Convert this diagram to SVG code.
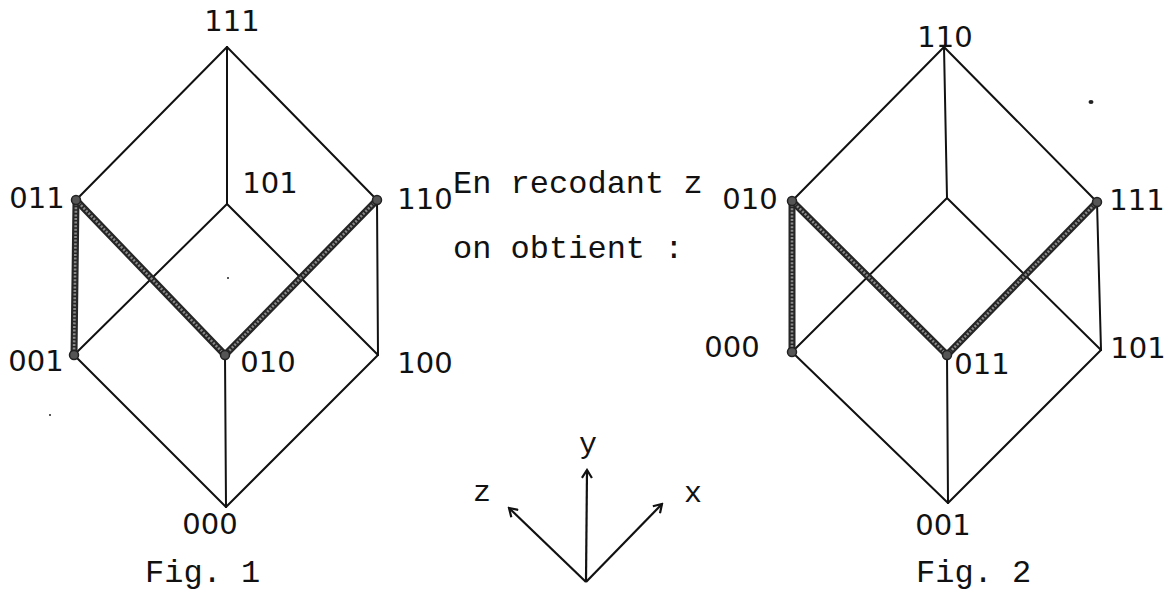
<svg xmlns="http://www.w3.org/2000/svg" width="1174" height="593" viewBox="0 0 1174 593">
<style>
.bg{fill:#ffffff}
.thin{stroke:#111;stroke-width:2;fill:none;stroke-linecap:round}
.thickO{stroke:#262626;stroke-width:7;fill:none;stroke-linecap:round}
.thickI{stroke:#8a8a8a;stroke-width:2.6;fill:none;stroke-dasharray:2 1.6}
.dot{fill:#555;stroke:#222;stroke-width:1.5}
.lbl{font-family:"DejaVu Sans",sans-serif;font-size:29px;fill:#111;text-anchor:middle}
.mono{font-family:"Liberation Mono","Courier New",monospace;font-size:32px;fill:#111}
.ax{stroke:#111;stroke-width:2.2;fill:none}
.speck{fill:#222}
</style>
<defs>
<marker id="arr" markerWidth="12" markerHeight="12" refX="10" refY="6" orient="auto" markerUnits="userSpaceOnUse">
<path d="M2,1 L10,6 L2,11" fill="none" stroke="#111" stroke-width="2.2"/>
</marker>
</defs>
<rect class="bg" x="0" y="0" width="1174" height="593"/>

<g id="connectors">
<!-- Fig 1 thin -->
<line class="thin" x1="227" y1="47" x2="76" y2="200"/>
<line class="thin" x1="227" y1="47" x2="377" y2="200"/>
<line class="thin" x1="227" y1="47" x2="227" y2="204"/>
<line class="thin" x1="227" y1="204" x2="74" y2="355"/>
<line class="thin" x1="227" y1="204" x2="378" y2="355"/>
<line class="thin" x1="377" y1="200" x2="378" y2="355"/>
<line class="thin" x1="74" y1="355" x2="226" y2="507"/>
<line class="thin" x1="378" y1="355" x2="226" y2="507"/>
<line class="thin" x1="225" y1="355" x2="226" y2="507"/>
<!-- Fig 1 thick -->
<g>
<line class="thickO" x1="76" y1="200" x2="74" y2="355"/>
<line class="thickO" x1="76" y1="200" x2="225" y2="355"/>
<line class="thickO" x1="377" y1="200" x2="225" y2="355"/>
<line class="thickI" x1="76" y1="200" x2="74" y2="355"/>
<line class="thickI" x1="76" y1="200" x2="225" y2="355"/>
<line class="thickI" x1="377" y1="200" x2="225" y2="355"/>
</g>
<!-- Fig 2 thin -->
<line class="thin" x1="944" y1="47" x2="792" y2="201"/>
<line class="thin" x1="944" y1="47" x2="1097" y2="202"/>
<line class="thin" x1="944" y1="47" x2="947" y2="198"/>
<line class="thin" x1="947" y1="198" x2="792" y2="352"/>
<line class="thin" x1="947" y1="198" x2="1101" y2="350"/>
<line class="thin" x1="1097" y1="202" x2="1101" y2="350"/>
<line class="thin" x1="792" y1="352" x2="948" y2="503"/>
<line class="thin" x1="1101" y1="350" x2="948" y2="503"/>
<line class="thin" x1="947" y1="355" x2="948" y2="503"/>
<!-- Fig 2 thick -->
<g>
<line class="thickO" x1="792" y1="201" x2="792" y2="352"/>
<line class="thickO" x1="792" y1="201" x2="947" y2="355"/>
<line class="thickO" x1="1097" y1="202" x2="947" y2="355"/>
<line class="thickI" x1="792" y1="201" x2="792" y2="352"/>
<line class="thickI" x1="792" y1="201" x2="947" y2="355"/>
<line class="thickI" x1="1097" y1="202" x2="947" y2="355"/>
</g>
</g>

<g id="fig1-111"><text class="lbl" x="232" y="31">111</text></g>
<g id="fig1-101"><text class="lbl" x="270" y="193">101</text></g>
<g id="fig1-011"><circle class="dot" cx="76" cy="200" r="4.5"/><text class="lbl" x="37" y="208">011</text></g>
<g id="fig1-110"><circle class="dot" cx="377" cy="200" r="4.5"/><text class="lbl" x="425" y="209">110</text></g>
<g id="fig1-001"><circle class="dot" cx="74" cy="355" r="4.5"/><text class="lbl" x="36" y="371">001</text></g>
<g id="fig1-010"><circle class="dot" cx="225" cy="355" r="4.5"/><text class="lbl" x="268" y="372">010</text></g>
<g id="fig1-100"><text class="lbl" x="425" y="373">100</text></g>
<g id="fig1-000"><text class="lbl" x="210" y="534">000</text></g>
<g id="fig1-caption"><text class="mono" x="145" y="582">Fig. 1</text></g>

<g id="fig2-110"><text class="lbl" x="945" y="47">110</text></g>
<g id="fig2-010"><circle class="dot" cx="792" cy="201" r="4.5"/><text class="lbl" x="750" y="209">010</text></g>
<g id="fig2-111"><circle class="dot" cx="1097" cy="202" r="4.5"/><text class="lbl" x="1137" y="210">111</text></g>
<g id="fig2-000"><circle class="dot" cx="792" cy="352" r="4.5"/><text class="lbl" x="732" y="357">000</text></g>
<g id="fig2-011"><circle class="dot" cx="947" cy="355" r="4.5"/><text class="lbl" x="982" y="374">011</text></g>
<g id="fig2-101"><text class="lbl" x="1138" y="358">101</text></g>
<g id="fig2-001"><text class="lbl" x="943" y="535">001</text></g>
<g id="fig2-caption"><text class="mono" x="916" y="582">Fig. 2</text></g>

<g id="note">
<text class="mono" x="453" y="193">En recodant z</text>
<text class="mono" x="453" y="258">on obtient :</text>
</g>

<g id="axes">
<line class="ax" x1="586" y1="582" x2="587" y2="470" marker-end="url(#arr)"/>
<line class="ax" x1="586" y1="582" x2="509" y2="508" marker-end="url(#arr)"/>
<line class="ax" x1="586" y1="582" x2="662" y2="504" marker-end="url(#arr)"/>
<text class="mono" x="588" y="453" text-anchor="middle" style="font-size:30px">y</text>
<text class="mono" x="482" y="501" text-anchor="middle" style="font-size:30px">z</text>
<text class="mono" x="693" y="502" text-anchor="middle" style="font-size:30px">x</text>
</g>

<g id="specks">
<ellipse class="speck" cx="1091" cy="102" rx="2.5" ry="2"/>
<circle class="speck" cx="228" cy="278" r="1"/>
<circle class="speck" cx="50" cy="415" r="1"/>
</g>
</svg>
